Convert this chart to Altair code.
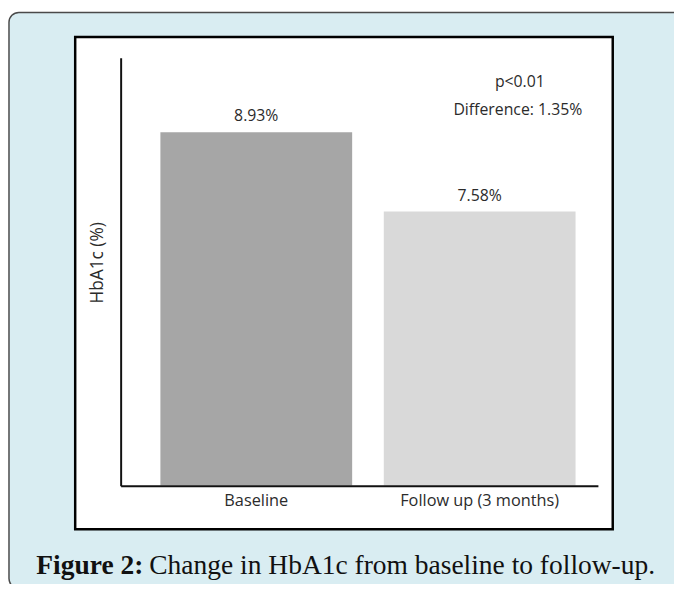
import altair as alt
import pandas as pd

# ---- data ----
categories = ["Baseline", "Follow up (3 months)"]
values = [8.93, 7.58]
value_labels = ["8.93%", "7.58%"]
bar_colors = ["#a6a6a6", "#d9d9d9"]
stat_lines = ["p<0.01", "Difference: 1.35%"]
caption_bold = "Figure 2:"
caption_rest = "Change in HbA1c from baseline to follow-up."

Y_MIN, Y_MAX = 2.9, 10.2

df = pd.DataFrame({"cat": categories, "val": values, "lab": value_labels})
one = pd.DataFrame({"k": [0]})

CHART_FONT = "Open Sans"
TXT = "#2b2b2b"

x_enc = alt.X(
    "cat:N",
    sort=categories,
    scale=alt.Scale(paddingInner=0.1416, paddingOuter=0.139, align=0.64),
    axis=alt.Axis(
        title=None, ticks=False, tickSize=0, labelAngle=0, labelPadding=15,
        labelBaseline="middle", labelFontSize=16.5, labelFont=CHART_FONT,
        labelColor=TXT, domainColor="#111111", domainWidth=2, grid=False, zindex=2,
    ),
)
y_enc = alt.Y(
    "val:Q",
    scale=alt.Scale(domain=[Y_MIN, Y_MAX], zero=False, nice=False),
    axis=alt.Axis(
        title="HbA1c (%)", labels=False, ticks=False, grid=False,
        domainColor="#111111", domainWidth=2, titleFont=CHART_FONT,
        titleFontSize=17.5, titleFontWeight="normal", titleColor=TXT,
        titleX=-23, titleY=207, titleAlign="center", titleBaseline="middle",
        titleAngle=270, zindex=2,
    ),
)

outer_panel = alt.Chart(one).mark_rect(
    fill="#d9edf2", stroke="#4a4a4a", strokeWidth=1.5, cornerRadius=10
).encode(x=alt.value(-113), x2=alt.value(600), y=alt.value(-46), y2=alt.value(537))

inner_box = alt.Chart(one).mark_rect(
    fill="white", stroke="black", strokeWidth=2.5
).encode(x=alt.value(-46), x2=alt.value(498), y=alt.value(-21), y2=alt.value(477))

bars = alt.Chart(df).mark_bar(clip=True).encode(
    x=x_enc,
    y=y_enc,
    y2=alt.datum(Y_MIN),
    color=alt.Color("cat:N", scale=alt.Scale(domain=categories, range=bar_colors), legend=None),
)

bar_text = alt.Chart(df).mark_text(
    dy=-16, baseline="middle", font=CHART_FONT, fontSize=16, color=TXT
).encode(x=alt.X("cat:N", sort=categories), y="val:Q", text="lab:N")

stat1 = alt.Chart(one).mark_text(
    text=stat_lines[0], font=CHART_FONT, fontSize=16, color=TXT, baseline="middle"
).encode(x=alt.value(404), y=alt.value(24))
stat2 = alt.Chart(one).mark_text(
    text=stat_lines[1], font=CHART_FONT, fontSize=16, color=TXT, baseline="middle"
).encode(x=alt.value(402), y=alt.value(53))

cap1 = alt.Chart(one).mark_text(
    text=caption_bold, font="Liberation Serif", fontSize=27.8, fontWeight="bold",
    color="#111111", align="right", baseline="alphabetic"
).encode(x=alt.value(23), y=alt.value(522))
cap2 = alt.Chart(one).mark_text(
    text=caption_rest, font="Liberation Serif", fontSize=27.8,
    color="#111111", align="left", baseline="alphabetic"
).encode(x=alt.value(29), y=alt.value(522))

chart = alt.layer(
    outer_panel, inner_box, bars, bar_text, stat1, stat2, cap1, cap2
).properties(
    width=483, height=433,
    autosize=alt.AutoSizeParams(type="none"),
    padding={"left": 114, "top": 47, "right": 77, "bottom": 96},
    background="white",
).configure_view(stroke=None)

chart.save("out.html", embed_options={"renderer": "svg", "actions": False})
